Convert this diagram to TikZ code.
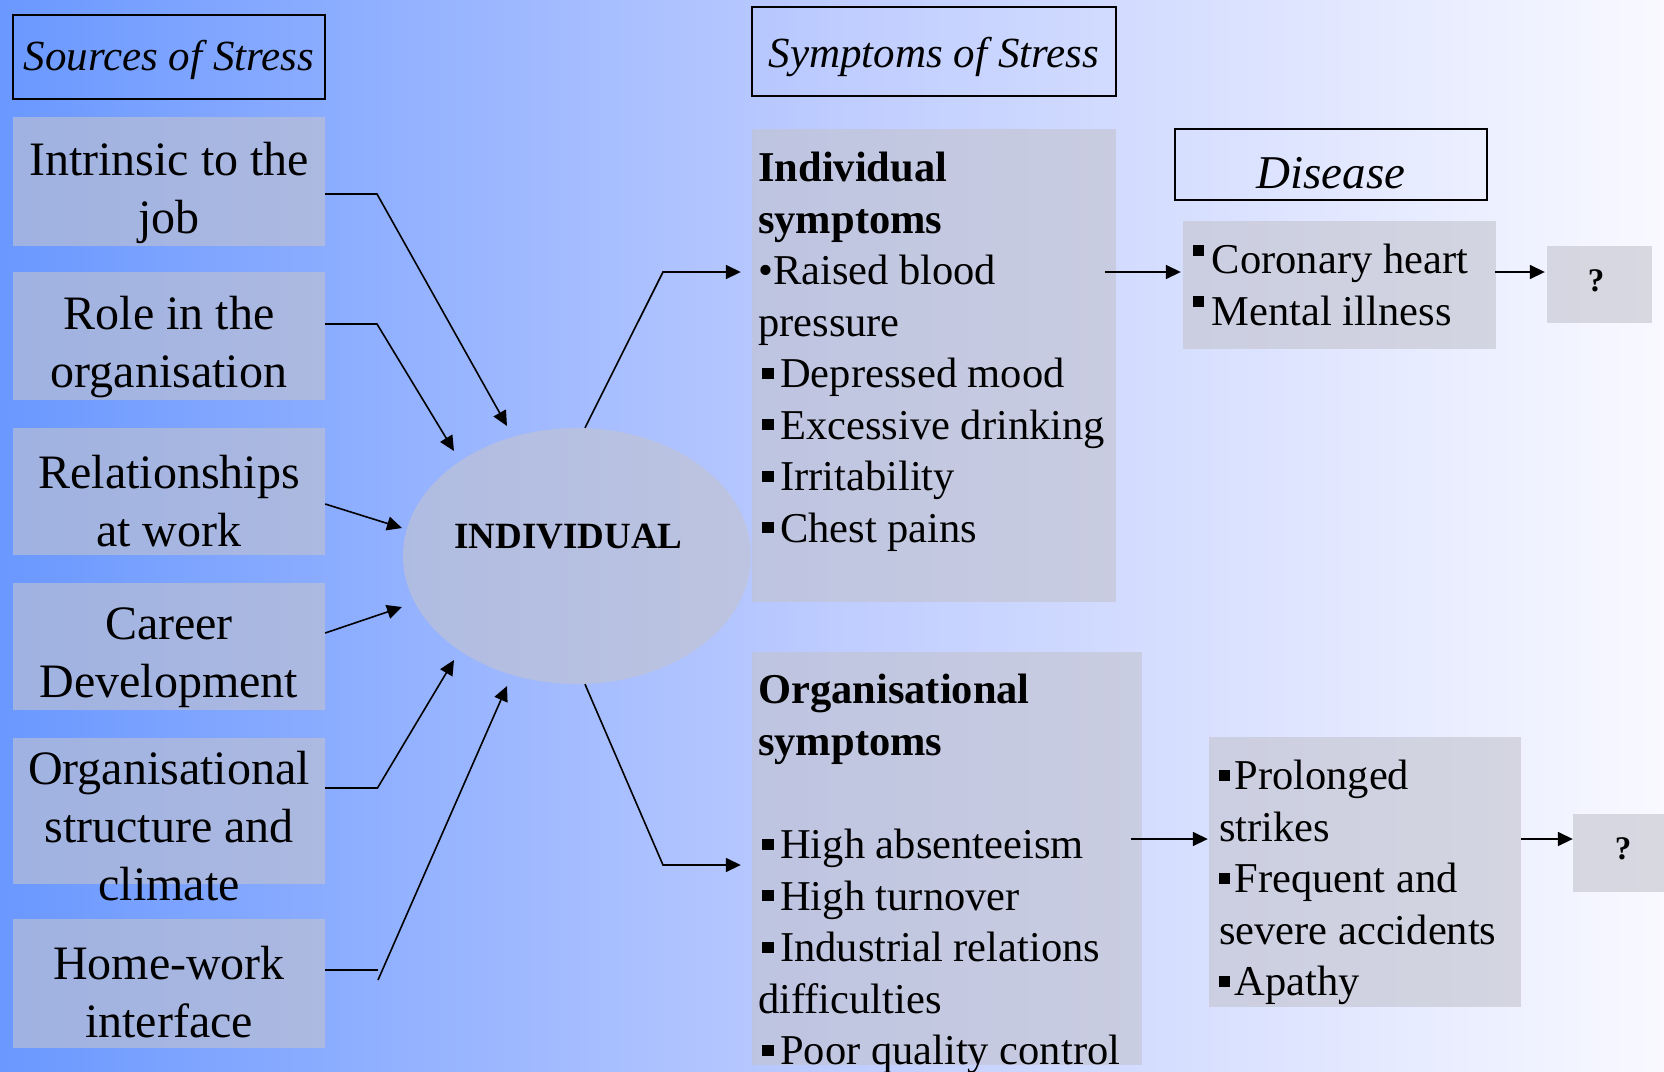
\documentclass[tikz,border=0pt]{standalone}
\usepackage{fontspec}
\setmainfont{Liberation Serif}
\usetikzlibrary{arrows.meta,shapes.geometric,calc}
\definecolor{bgl}{RGB}{106,152,255}
\definecolor{bgm}{RGB}{190,204,255}
\definecolor{bgr}{RGB}{249,249,255}
\definecolor{boxg}{RGB}{195,195,205}
\newcommand\sqm{\hspace{0.1em}\raisebox{0.21em}{\rule{0.26em}{0.26em}}\hspace{0.16em}}
\newcommand\sqp{\raisebox{0.21em}{\rule{0.26em}{0.26em}}\hspace{0.1em}}
\newcommand\sqh{\raisebox{0.42em}{\rule{0.26em}{0.26em}}\hspace{0.18em}}
\begin{document}
\begin{tikzpicture}[x=1pt,y=-1pt,
  gbox/.style={fill=boxg, fill opacity=0.6, text opacity=1, draw=none, inner sep=0pt, rectangle},
  srcbox/.style={gbox, minimum width=312pt},
  stxt/.style={align=center, inner sep=0pt, font={\fontsize{48}{58}\selectfont}},
  rtxt/.style={align=left, inner sep=0pt, anchor=north west, font={\fontsize{42.5}{51.5}\selectfont}},
  hdr/.style={draw=black, line width=1.4pt, inner sep=0pt},
  htxt/.style={inner sep=0pt, font={\fontsize{43}{50}\selectfont\itshape}},
  qtxt/.style={font={\fontsize{33}{40}\selectfont\bfseries}, inner sep=0pt},
  conn/.style={line width=1.6pt, -{Triangle[length=15pt,width=14pt]}},
  plain/.style={line width=1.6pt}
]
\useasboundingbox (0,0) rectangle (1664,1071);
\shade[left color=bgl, right color=bgr, middle color=bgm] (0,0) rectangle (1664,1071);

% headers
\node[hdr, minimum width=312pt, minimum height=84pt] (hs) at (169,57) {};
\node[htxt] (hst) at (169,60) {Sources of Stress};
\node[hdr, minimum width=364pt, minimum height=89pt] (hy) at (934,51.5) {};
\node[htxt] (hyt) at (934,57) {Symptoms of Stress};
\node[hdr, minimum width=312pt, minimum height=71pt] (hd) at (1331,164.5) {};
\node[inner sep=0pt, anchor=base, font={\fontsize{47}{55}\selectfont\itshape}] (hdt) at (1331,188) {Disease};

% source boxes
\node[srcbox, minimum height=129pt] (s1) at (169,181.5) {};
\node[srcbox, minimum height=128pt] (s2) at (169,336) {};
\node[srcbox, minimum height=127pt] (s3) at (169,491.5) {};
\node[srcbox, minimum height=127pt] (s4) at (169,646.5) {};
\node[srcbox, minimum height=146pt] (s5) at (169,811) {};
\node[srcbox, minimum height=129pt] (s6) at (169,983.5) {};
\node[stxt] (s1t) at ($(s1.center)+(0,11)$) {Intrinsic to the\\job};
\node[stxt] (s2t) at ($(s2.center)+(0,11)$) {Role in the\\organisation};
\node[stxt] (s3t) at ($(s3.center)+(0,10)$) {Relationships\\at work};
\node[stxt] (s4t) at ($(s4.center)+(0,11)$) {Career\\Development};
\node[stxt] (s5t) at ($(s5.center)+(0,15)$) {Organisational\\structure and\\climate};
\node[stxt] (s6t) at ($(s6.center)+(0,9)$) {Home-work\\interface};

% individual
\node[gbox, ellipse, minimum width=348pt, minimum height=256pt] (ind) at (577,556) {};
\node[inner sep=0pt, anchor=base, font={\fontsize{37}{44}\selectfont\bfseries}] (indt) at (568.5,548) {INDIVIDUAL};

% symptom boxes
\node[gbox, minimum width=364pt, minimum height=473pt] (ib) at (934,365.5) {};
\node[rtxt] (ibt) at (758,152) {\textbf{Individual}\\\textbf{symptoms}\\•Raised blood\\pressure\\\sqm Depressed mood\\\sqm Excessive drinking\\\sqm Irritability\\\sqm Chest pains};
\node[gbox, minimum width=390pt, minimum height=413pt] (ob) at (947,858.5) {};
\node[rtxt] (obt) at (758,674) {\textbf{Organisational}\\\textbf{symptoms}\\[52pt]\sqm High absenteeism\\\sqm High turnover\\\sqm Industrial relations\\difficulties\\\sqm Poor quality control};

% disease / outcomes
\node[gbox, minimum width=313pt, minimum height=128pt] (db) at (1339.5,285) {};
\node[rtxt] (dbt) at (1193,244) {\sqh Coronary heart\\\sqh Mental illness};
\node[gbox, minimum width=105pt, minimum height=77pt] (q1) at (1599.5,284.5) {};
\node[qtxt] (q1t) at (1596,281) {?};
\node[gbox, minimum width=312pt, minimum height=270pt] (pb) at (1365,872) {};
\node[rtxt] (pbt) at (1219,760) {\sqp Prolonged\\strikes\\\sqp Frequent and\\severe accidents\\\sqp Apathy};
\node[gbox, minimum width=100pt, minimum height=78pt] (q2) at (1623,853) {};
\node[qtxt] (q2t) at (1623,849) {?};

% coordinates
\coordinate (b1) at (377,194);   \coordinate (e1) at (507,426);
\coordinate (b2) at (377,324);   \coordinate (e2) at (454,451);
\coordinate (e3) at (402,528);
\coordinate (e4) at (402,607);
\coordinate (b5) at (377.5,788); \coordinate (e5) at (454,660);
\coordinate (b6) at (378,970);   \coordinate (b6x) at (378,980); \coordinate (e6) at (507,686);
\coordinate (bt) at (663,272);   \coordinate (bb) at (663,865);

% left connectors
\draw[conn] (s1.east |- b1) -- (b1) -- (e1);
\draw[conn] (s2.east |- b2) -- (b2) -- (e2);
\draw[conn] (s3.east |- 0,504) -- (e3);
\draw[conn] (s4.east |- 0,633) -- (e4);
\draw[conn] (s5.east |- b5) -- (b5) -- (e5);
\draw[plain] (s6.east |- b6) -- (b6);
\draw[conn] (b6x) -- (e6);

% right connectors
\draw[conn] ($(ind.north)+(8,0)$) -- (bt) -- ($(ib.west |- bt)+(-11,0)$);
\draw[conn] ($(ind.south)+(8,0)$) -- (bb) -- ($(ob.west |- bb)+(-11,0)$);
\draw[conn] ($(ib.east |- 0,272)+(-11,0)$) -- ($(db.west |- 0,272)+(-2,0)$);
\draw[conn] ($(db.east |- 0,272)+(-1,0)$) -- ($(q1.west |- 0,272)+(-2,0)$);
\draw[conn] ($(ob.east |- 0,839)+(-11,0)$) -- ($(pb.west |- 0,839)+(-1,0)$);
\draw[conn] (pb.east |- 0,839) -- (q2.west |- 0,839);
\end{tikzpicture}
\end{document}
